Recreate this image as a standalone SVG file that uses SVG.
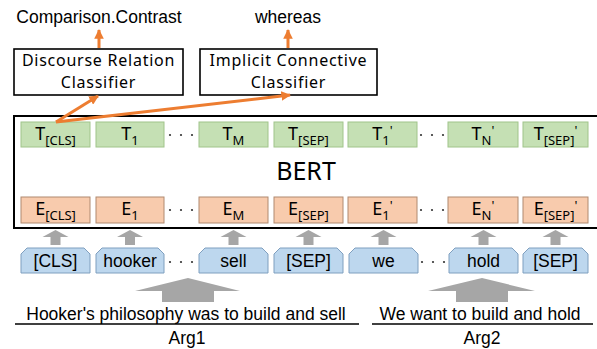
<svg xmlns="http://www.w3.org/2000/svg" width="597" height="349" viewBox="0 0 597 349">
<defs>
<marker id="oa" viewBox="0 0 10 10" refX="9" refY="5" markerWidth="3.2" markerHeight="3.2" orient="auto" markerUnits="strokeWidth">
<path d="M0,0 L10,5 L0,10 Z" fill="#ED7D31"/>
</marker>
<style>
.lab{font-family:"Liberation Sans",Arial,sans-serif;font-size:17.5px;fill:#000}
.thin{font-family:"Noto Sans","DejaVu Sans",sans-serif;fill:#000}
.ctx{font-size:16px;letter-spacing:0.75px}
.cls{fill:#fff;stroke:#000;stroke-width:1.6}
.tb{fill:#C5E0B4;stroke:#A0C48A;stroke-width:1}
.eb{fill:#F8CBAD;stroke:#B08A70;stroke-width:1}
.tok{fill:#BDD7EE;stroke:#7F9FBF;stroke-width:1;stroke-linejoin:round}
.oline{stroke:#ED7D31;stroke-width:3;fill:none}
.garr{fill:#A6A6A6}
.dot{fill:#333}
.ul{stroke:#000;stroke-width:1.6}
.pr{font-size:13px;fill:#000}
</style>
</defs>

<!-- output labels -->
<text class="lab" x="99" y="23" text-anchor="middle">Comparison.Contrast</text>
<text class="lab" x="288" y="23" text-anchor="middle">whereas</text>

<g id="drc">
<rect class="cls" x="14" y="49" width="169" height="46"/>
<text class="thin ctx" x="98.5" y="66" text-anchor="middle">Discourse Relation</text>
<text class="thin ctx" x="98.5" y="88" text-anchor="middle">Classifier</text>
</g>
<g id="icc">
<rect class="cls" x="200" y="49" width="177" height="46"/>
<text class="thin ctx" x="288.5" y="66" text-anchor="middle">Implicit Connective</text>
<text class="thin ctx" x="288.5" y="88" text-anchor="middle">Classifier</text>
</g>

<g id="bert">
<rect x="14" y="116" width="586" height="112" fill="#fff" stroke="#000" stroke-width="2"/>
<text class="thin" x="306" y="180" font-size="25" text-anchor="middle">BERT</text>
</g>

<g id="trow">
<g id="t-cls"><rect class="tb" x="21" y="122" width="69" height="25"/><text class="thin" x="55.5" y="140" font-size="18" text-anchor="middle">T<tspan dy="5" font-size="13">[CLS]</tspan></text></g>
<g id="t-1"><rect class="tb" x="96" y="122" width="68" height="25"/><text class="thin" x="130" y="140" font-size="18" text-anchor="middle">T<tspan dy="5" font-size="13">1</tspan></text></g>
<g id="t-m"><rect class="tb" x="199" y="122" width="69" height="25"/><text class="thin" x="233.5" y="140" font-size="18" text-anchor="middle">T<tspan dy="5" font-size="13">M</tspan></text></g>
<g id="t-sep"><rect class="tb" x="274" y="122" width="69" height="25"/><text class="thin" x="308.5" y="140" font-size="18" text-anchor="middle">T<tspan dy="5" font-size="13">[SEP]</tspan></text></g>
<g id="t-1p"><rect class="tb" x="348" y="122" width="69" height="25"/><text class="thin" x="382.5" y="140" font-size="18" text-anchor="middle">T<tspan dy="5" font-size="13">1</tspan><tspan class="pr" dy="-10">'</tspan></text></g>
<g id="t-np"><rect class="tb" x="448" y="122" width="70" height="25"/><text class="thin" x="483" y="140" font-size="18" text-anchor="middle">T<tspan dy="5" font-size="13">N</tspan><tspan class="pr" dy="-10">'</tspan></text></g>
<g id="t-sepp"><rect class="tb" x="523" y="122" width="65" height="25"/><text class="thin" x="555.5" y="140" font-size="18" text-anchor="middle">T<tspan dy="5" font-size="13">[SEP]</tspan><tspan class="pr" dy="-10">'</tspan></text></g>
</g>

<g id="erow">
<g id="e-cls"><rect class="eb" x="21" y="197" width="69" height="26"/><text class="thin" x="55.5" y="215" font-size="18" text-anchor="middle">E<tspan dy="5" font-size="13">[CLS]</tspan></text></g>
<g id="e-1"><rect class="eb" x="96" y="197" width="68" height="26"/><text class="thin" x="130" y="215" font-size="18" text-anchor="middle">E<tspan dy="5" font-size="13">1</tspan></text></g>
<g id="e-m"><rect class="eb" x="199" y="197" width="69" height="26"/><text class="thin" x="233.5" y="215" font-size="18" text-anchor="middle">E<tspan dy="5" font-size="13">M</tspan></text></g>
<g id="e-sep"><rect class="eb" x="274" y="197" width="69" height="26"/><text class="thin" x="308.5" y="215" font-size="18" text-anchor="middle">E<tspan dy="5" font-size="13">[SEP]</tspan></text></g>
<g id="e-1p"><rect class="eb" x="348" y="197" width="69" height="26"/><text class="thin" x="382.5" y="215" font-size="18" text-anchor="middle">E<tspan dy="5" font-size="13">1</tspan><tspan class="pr" dy="-10">'</tspan></text></g>
<g id="e-np"><rect class="eb" x="448" y="197" width="70" height="26"/><text class="thin" x="483" y="215" font-size="18" text-anchor="middle">E<tspan dy="5" font-size="13">N</tspan><tspan class="pr" dy="-10">'</tspan></text></g>
<g id="e-sepp"><rect class="eb" x="523" y="197" width="65" height="26"/><text class="thin" x="555.5" y="215" font-size="18" text-anchor="middle">E<tspan dy="5" font-size="13">[SEP]</tspan><tspan class="pr" dy="-10">'</tspan></text></g>
</g>

<g id="tokens">
<g id="tok-cls"><path class="tok" d="M21,273 V254 L27,248 H84 L90,254 V273 Z"/><text class="lab" x="55.5" y="267" text-anchor="middle">[CLS]</text></g>
<g id="tok-hooker"><path class="tok" d="M96,273 V254 L102,248 H158 L164,254 V273 Z"/><text class="lab" x="130" y="267" text-anchor="middle">hooker</text></g>
<g id="tok-sell"><path class="tok" d="M199,273 V254 L205,248 H262 L268,254 V273 Z"/><text class="lab" x="233.5" y="267" text-anchor="middle">sell</text></g>
<g id="tok-sep"><path class="tok" d="M274,273 V254 L280,248 H337 L343,254 V273 Z"/><text class="lab" x="308.5" y="267" text-anchor="middle">[SEP]</text></g>
<g id="tok-we"><path class="tok" d="M349,273 V254 L355,248 H412 L418,254 V273 Z"/><text class="lab" x="383.5" y="267" text-anchor="middle">we</text></g>
<g id="tok-hold"><path class="tok" d="M449,273 V254 L455,248 H512 L518,254 V273 Z"/><text class="lab" x="483.5" y="267" text-anchor="middle">hold</text></g>
<g id="tok-sep2"><path class="tok" d="M523,273 V254 L529,248 H582 L588,254 V273 Z"/><text class="lab" x="555.5" y="267" text-anchor="middle">[SEP]</text></g>
</g>

<g id="dots">
<circle class="dot" cx="170" cy="135" r="1.1"/><circle class="dot" cx="181" cy="135" r="1.1"/><circle class="dot" cx="192" cy="135" r="1.1"/>
<circle class="dot" cx="421" cy="135" r="1.1"/><circle class="dot" cx="432" cy="135" r="1.1"/><circle class="dot" cx="443" cy="135" r="1.1"/>
<circle class="dot" cx="170" cy="210" r="1.1"/><circle class="dot" cx="181" cy="210" r="1.1"/><circle class="dot" cx="192" cy="210" r="1.1"/>
<circle class="dot" cx="421" cy="210" r="1.1"/><circle class="dot" cx="432" cy="210" r="1.1"/><circle class="dot" cx="443" cy="210" r="1.1"/>
<circle class="dot" cx="170" cy="262" r="1.1"/><circle class="dot" cx="181" cy="262" r="1.1"/><circle class="dot" cx="192" cy="262" r="1.1"/>
<circle class="dot" cx="422" cy="262" r="1.1"/><circle class="dot" cx="433" cy="262" r="1.1"/><circle class="dot" cx="444" cy="262" r="1.1"/>
</g>

<g id="connectors">
<line class="oline" x1="99" y1="48" x2="99" y2="30" marker-end="url(#oa)"/>
<line class="oline" x1="288" y1="48" x2="288" y2="30" marker-end="url(#oa)"/>
<line class="oline" x1="56" y1="122" x2="98" y2="96" marker-end="url(#oa)"/>
<line class="oline" x1="56" y1="122" x2="290" y2="95" marker-end="url(#oa)"/>
<g class="garr">
<path d="M55.5,230 L68.5,237 H60.5 V245 H50.5 V237 H42.5 Z"/>
<path d="M130,230 L143,237 H135 V245 H125 V237 H117 Z"/>
<path d="M233.5,230 L246.5,237 H238.5 V245 H228.5 V237 H220.5 Z"/>
<path d="M308.5,230 L321.5,237 H313.5 V245 H303.5 V237 H295.5 Z"/>
<path d="M383.5,230 L396.5,237 H388.5 V245 H378.5 V237 H370.5 Z"/>
<path d="M483.5,230 L496.5,237 H488.5 V245 H478.5 V237 H470.5 Z"/>
<path d="M555.5,230 L568.5,237 H560.5 V245 H550.5 V237 H542.5 Z"/>
<path d="M188,278 L240,291 H214 V302 H162 V291 H135 Z"/>
<path d="M482,278 L535,291 H508 V302 H456 V291 H428 Z"/>
</g>
</g>

<g id="arg1">
<text class="lab" x="186" y="320" text-anchor="middle">Hooker's philosophy was to build and sell</text>
<line class="ul" x1="15" y1="324" x2="359" y2="324"/>
<text class="lab" x="187" y="344" text-anchor="middle">Arg1</text>
</g>
<g id="arg2">
<text class="lab" x="480" y="320" text-anchor="middle">We want to build and hold</text>
<line class="ul" x1="372" y1="324" x2="593" y2="324"/>
<text class="lab" x="482" y="344" text-anchor="middle">Arg2</text>
</g>
</svg>
